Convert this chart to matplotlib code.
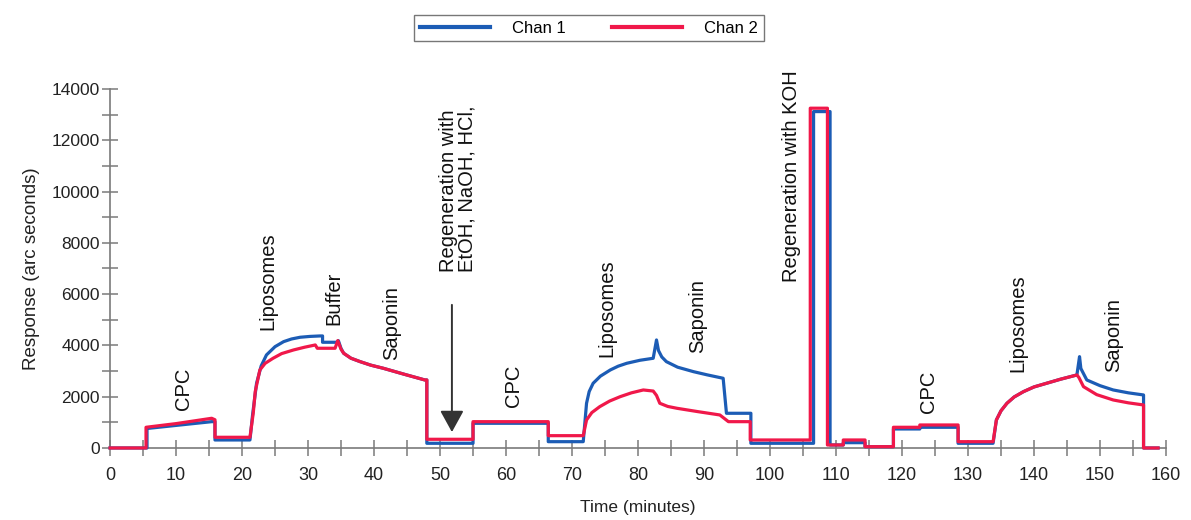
import matplotlib
matplotlib.use("Agg")
import matplotlib.pyplot as plt
from matplotlib.ticker import MultipleLocator

plt.rcParams["font.family"] = ["Liberation Sans", "DejaVu Sans"]

# sensor traces (time in minutes, response in arc seconds)
chan1_t = [0, 5.6, 5.6, 10, 15.4, 15.9, 15.9, 21.2, 21.6, 22.2, 22.9, 23.7, 25.0, 26.3,
           27.5, 28.8, 30.3, 31.8, 32.2, 32.2, 34.4, 34.6, 35.0, 35.4, 36.5, 37.9,
           39.5, 41.4, 44.5, 47.7, 48.0, 48.0, 55.0,
           55.0, 66.4, 66.4, 71.7, 72.2, 72.6, 73.2, 74.3, 75.8, 77.0, 78.3, 80.3,
           82.3, 82.8, 83.1, 83.6, 84.3, 86.0, 88.4, 90.5, 92.9, 93.4, 97.1, 97.1,
           106.6, 106.6, 109.1, 109.1, 111.1, 111.1,
           114.4, 114.4, 118.7, 118.7, 122.7, 122.7, 128.5, 128.5, 133.8, 134.3,
           135.0, 135.9, 137.0, 138.4, 140.0, 141.9, 144.0, 146.5, 146.9, 147.1,
           147.6, 148.0, 150.0, 152.0, 154.3, 156.6, 156.6, 158.8]
chan1_r = [0, 0, 760, 880, 1026, 1026, 312, 312, 1300, 2523, 3200, 3627, 3950, 4146,
           4250, 4317, 4350, 4368, 4368, 4122, 4122, 4185, 3880, 3693, 3500, 3366,
           3230, 3108, 2880, 2652, 2652, 183, 183,
           963, 963, 246, 246, 1743, 2200, 2523, 2800, 3042, 3190, 3303, 3420,
           3498, 4212, 3800, 3550, 3366, 3150, 2976, 2850, 2718, 1353, 1353, 183,
           183, 13116, 13116, 117, 117, 207,
           207, 51, 51, 741, 741, 807, 807, 183, 183, 1092,
           1450, 1743, 1990, 2196, 2380, 2523, 2680, 2847, 3561, 3100,
           2850, 2652, 2430, 2262, 2150, 2067, 0, 0]

chan2_t = [0, 5.45, 5.45, 10, 15.4, 15.9, 15.9, 21.2, 21.7, 22.0, 22.7, 23.5, 24.7,
           26.0, 27.8, 29.5, 31.1, 31.4, 34.1, 34.5, 35.0, 35.4, 36.5, 37.9, 39.5,
           41.4, 44.5, 47.7, 48.0, 48.0, 55.0, 55.0, 66.4,
           66.4, 71.7, 72.2, 73.0, 74.2, 75.7, 77.3, 79.0, 80.8, 82.3, 82.8, 83.3,
           84.5, 85.9, 89.0, 92.4, 93.7, 97.0,
           97.0, 106.1, 106.1, 108.7, 108.7, 111.1, 111.1, 114.4, 114.4, 118.7,
           118.7, 122.7, 122.7, 128.5, 128.5, 133.8, 134.3, 135.0, 135.9, 137.0,
           138.4, 140.0, 141.9, 144.0, 146.5, 146.8, 147.5, 149.5, 152.0, 154.3,
           156.6, 156.6, 158.8]
chan2_r = [0, 0, 807, 950, 1158, 1100, 417, 417, 1365, 2200, 3042, 3300, 3498,
           3680, 3822, 3930, 4017, 3888, 3888, 4185, 3850, 3693, 3500, 3366, 3230,
           3108, 2880, 2652, 2652, 339, 339, 1026, 1026,
           480, 480, 1092, 1380, 1611, 1830, 2001, 2150, 2262, 2220, 2050, 1743,
           1620, 1548, 1420, 1287, 1026, 1026,
           312, 312, 13248, 13248, 117, 117, 312, 312, 51, 51,
           807, 807, 897, 897, 246, 246, 1092, 1450, 1743, 1990,
           2196, 2380, 2523, 2680, 2847, 2750, 2391, 2080, 1872, 1760,
           1677, 0, 0]

# injection labels: (time, bottom of text, label)
event_t = [11.1, 23.9, 33.9, 42.7, 52.7, 61.1, 75.3, 89.1, 103.3, 124.0, 137.6, 152.0]
event_y = [1480, 4600, 4800, 3430, 6860, 1600, 3560, 3690, 6490, 1370, 2980, 2980]
event_text = ["CPC", "Liposomes", "Buffer", "Saponin",
              "Regeneration with\nEtOH, NaOH, HCl,",
              "CPC", "Liposomes", "Saponin", "Regeneration with KOH",
              "CPC", "Liposomes", "Saponin"]

arrow_t = 51.8
arrow_from, arrow_to = 5580, 620

BLUE = "#1c5cb5"
RED = "#f0184a"
AXIS_GRAY = "#7a7a7a"

fig = plt.figure(figsize=(11.91, 5.2), dpi=100)
ax = fig.add_axes([0.0924, 0.1385, 0.8866, 0.6905])

ax.plot(chan1_t, chan1_r, color=BLUE, lw=2.3, label="Chan 1",
        solid_joinstyle="round", clip_on=False, zorder=3)
ax.plot(chan2_t, chan2_r, color=RED, lw=2.3, label="Chan 2",
        solid_joinstyle="round", clip_on=False, zorder=4)

for t, y, s in zip(event_t, event_y, event_text):
    ax.text(t, y, s, rotation=90, ha="center", va="bottom",
            multialignment="left", fontsize=14.5, color="#111111",
            linespacing=1.0, zorder=5, clip_on=False)

ax.annotate("", xy=(arrow_t, arrow_to), xytext=(arrow_t, arrow_from),
            arrowprops=dict(arrowstyle="-|>,head_length=0.6,head_width=0.33",
                            mutation_scale=22, color="#333333", lw=1.4,
                            shrinkA=0, shrinkB=0))

ax.set_xlim(0, 160)
ax.set_ylim(0, 14000)
ax.xaxis.set_major_locator(MultipleLocator(10))
ax.xaxis.set_minor_locator(MultipleLocator(5))
ax.yaxis.set_major_locator(MultipleLocator(2000))
ax.yaxis.set_minor_locator(MultipleLocator(1000))

for side in ("top", "right"):
    ax.spines[side].set_visible(False)
for side in ("left", "bottom"):
    ax.spines[side].set_color(AXIS_GRAY)
    ax.spines[side].set_linewidth(1.2)

ax.tick_params(axis="both", which="both", direction="inout", length=11,
               width=1.1, color=AXIS_GRAY)
ax.tick_params(axis="x", labelsize=13, pad=8, labelcolor="#222222")
ax.tick_params(axis="y", labelsize=12.5, pad=2, labelcolor="#222222")

ax.set_xlabel("Time (minutes)", fontsize=12.5, labelpad=12, color="#222222")
ax.set_ylabel("Response (arc seconds)", fontsize=13.5, labelpad=8, color="#222222")

leg = fig.legend(loc="center", bbox_to_anchor=(0.4945, 0.946), ncol=2,
                 fontsize=12, handlelength=4.2, handletextpad=1.3,
                 columnspacing=2.8, borderpad=0.35, borderaxespad=0,
                 fancybox=False, frameon=True)
leg.get_frame().set_edgecolor("#555555")
leg.get_frame().set_linewidth(1.0)
for line in leg.get_lines():
    line.set_linewidth(3)

fig.savefig("out.png", dpi=100, facecolor="white")
